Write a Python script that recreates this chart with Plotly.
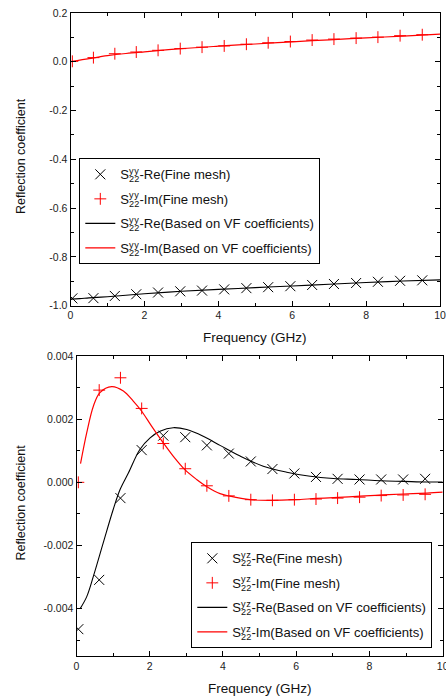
import plotly.graph_objects as go

# ---------------- data ----------------
# sample frequencies of fine-mesh markers (GHz)
freq_pts = [0.05, 0.62, 1.2, 1.78, 2.37, 2.97, 3.56, 4.16, 4.76, 5.35, 5.95, 6.54, 7.13, 7.73, 8.32, 8.92, 9.52]

# top panel: S22^yy
yy_re_pts = [-0.970, -0.969, -0.960, -0.953, -0.946, -0.941, -0.938, -0.933, -0.928, -0.924,
             -0.920, -0.915, -0.911, -0.907, -0.902, -0.898, -0.896]
yy_im_pts = [0.002, 0.017, 0.033, 0.040, 0.047, 0.054, 0.060, 0.065, 0.072, 0.078,
             0.083, 0.089, 0.093, 0.097, 0.101, 0.107, 0.111]
freq_line_top = [0, 0.25, 0.5, 1, 1.5, 2, 3, 4, 5, 6, 7, 8, 9, 10]
yy_re_line = [-0.973, -0.971, -0.968, -0.963, -0.957, -0.951, -0.941, -0.933, -0.926, -0.919,
              -0.912, -0.905, -0.899, -0.894]
yy_im_line = [0.000, 0.007, 0.013, 0.025, 0.034, 0.041, 0.054, 0.064, 0.073, 0.082,
              0.090, 0.098, 0.105, 0.113]

# bottom panel: S22^yz
yz_re_pts = [-0.00465, -0.00309, -0.00050, 0.00102, 0.00148, 0.00143, 0.00117, 0.00091, 0.00066,
             0.00042, 0.00028, 0.00017, 0.00011, 0.00009, 0.00009, 0.00009, 0.00011]
yz_im_pts = [0.00000, 0.00292, 0.00331, 0.00234, 0.00123, 0.00043, -0.00011, -0.00043, -0.00055,
             -0.00057, -0.00055, -0.00053, -0.00050, -0.00047, -0.00042, -0.00040, -0.00038]
freq_line_re = [0.1, 0.28, 0.46, 0.73, 1.0, 1.19, 1.42, 1.73, 2.01, 2.28, 2.64, 3.01, 3.46, 3.92,
                4.47, 5.10, 5.74, 6.38, 7.02, 7.66, 8.29, 8.93, 9.57, 10]
yz_re_line = [-0.00400, -0.00362, -0.00298, -0.00192, -0.00087, -0.00023, 0.00030, 0.00104,
              0.00141, 0.00162, 0.00173, 0.00167, 0.00146, 0.00117, 0.00083, 0.00051, 0.00032,
              0.00019, 0.00012, 0.00009, 0.00005, 0.00003, 0.00001, 0.00001]
freq_line_im = [0.11, 0.28, 0.46, 0.64, 0.96, 1.28, 1.55, 1.78, 2.05, 2.37, 2.64, 2.96, 3.28,
                3.56, 3.92, 4.19, 4.74, 5.33, 5.97, 6.56, 7.15, 7.75, 8.34, 8.93, 9.57, 10]
yz_im_line = [0.00059, 0.00157, 0.00241, 0.00284, 0.00303, 0.00289, 0.00257, 0.00225, 0.00178,
              0.00125, 0.00083, 0.00040, 0.00009, -0.00014, -0.00036, -0.00044, -0.00055,
              -0.00057, -0.00055, -0.00051, -0.00048, -0.00044, -0.00040, -0.00037, -0.00034,
              -0.00031]

x_tickvals = [0, 2, 4, 6, 8, 10]
x_ticktext = ["0", "2", "4", "6", "8", "10"]
x_minor = [1, 3, 5, 7, 9]
top_y_tickvals = [0.2, 0.0, -0.2, -0.4, -0.6, -0.8, -1.0]
top_y_ticktext = ["0.2", "0.0", "-0.2", "-0.4", "-0.6", "-0.8", "-1.0"]
top_y_minor = [0.1, -0.1, -0.3, -0.5, -0.7, -0.9]
bot_y_tickvals = [0.004, 0.002, 0.0, -0.002, -0.004]
bot_y_ticktext = ["0.004", "0.002", "0.000", "-0.002", "-0.004"]
bot_y_minor = [0.003, 0.001, -0.001, -0.003, -0.005]

FONT = "Liberation Sans, Arial, sans-serif"
RED = "#ff0000"
BLK = "#000000"
LEG_SIZE = 13.1


def label(sup, part):
    return ('S<sub>2<span style="letter-spacing:-10.2px">2</span></sub>'
            '<sup><span style="letter-spacing:0.6px">' + sup + '</span></sup>-' + part)


fig = go.Figure()

# top panel
fig.add_trace(go.Scatter(x=freq_pts, y=yy_re_pts, mode="markers", name=label("yy", "Re(Fine mesh)"),
                         marker=dict(symbol="x-thin", size=10, line=dict(color=BLK, width=1)),
                         xaxis="x", yaxis="y", legend="legend", legendgroup="a"))
fig.add_trace(go.Scatter(x=freq_pts, y=yy_im_pts, mode="markers", name=label("yy", "Im(Fine mesh)"),
                         marker=dict(symbol="cross-thin", size=8.5, line=dict(color=RED, width=1)),
                         xaxis="x", yaxis="y", legend="legend", legendgroup="b"))
fig.add_trace(go.Scatter(x=freq_line_top, y=yy_re_line, mode="lines",
                         name=label("yy", "Re(Based on VF coefficients)"),
                         line=dict(color=BLK, width=1.1, shape="spline"),
                         xaxis="x", yaxis="y", legend="legend", legendgroup="c"))
fig.add_trace(go.Scatter(x=freq_line_top, y=yy_im_line, mode="lines",
                         name=label("yy", "Im(Based on VF coefficients)"),
                         line=dict(color=RED, width=1.2, shape="spline"),
                         xaxis="x", yaxis="y", legend="legend", legendgroup="d"))

# bottom panel
fig.add_trace(go.Scatter(x=freq_pts, y=yz_re_pts, mode="markers", name=label("yz", "Re(Fine mesh)"),
                         marker=dict(symbol="x-thin", size=10, line=dict(color=BLK, width=1)),
                         xaxis="x2", yaxis="y2", legend="legend2", legendgroup="e"))
fig.add_trace(go.Scatter(x=freq_pts, y=yz_im_pts, mode="markers", name=label("yz", "Im(Fine mesh)"),
                         marker=dict(symbol="cross-thin", size=8.5, line=dict(color=RED, width=1)),
                         xaxis="x2", yaxis="y2", legend="legend2", legendgroup="f"))
fig.add_trace(go.Scatter(x=freq_line_re, y=yz_re_line, mode="lines",
                         name=label("yz", "Re(Based on VF coefficients)"),
                         line=dict(color=BLK, width=1.1, shape="spline"),
                         xaxis="x2", yaxis="y2", legend="legend2", legendgroup="g"))
fig.add_trace(go.Scatter(x=freq_line_im, y=yz_im_line, mode="lines",
                         name=label("yz", "Im(Based on VF coefficients)"),
                         line=dict(color=RED, width=1.2, shape="spline"),
                         xaxis="x2", yaxis="y2", legend="legend2", legendgroup="h"))

W, H = 446, 698


def px_x(p):
    return p / W


def px_y(p):
    return 1 - p / H


axis_common = dict(showline=True, linecolor=BLK, linewidth=1, mirror="allticks", ticks="inside",
                   ticklen=5, tickcolor=BLK, tickwidth=1, showgrid=False, zeroline=False,
                   tickfont=dict(family=FONT, size=10.5, color="#222"), automargin=False,
                   ticklabeloverflow="allow")

fig.update_layout(
    width=W, height=H,
    margin=dict(l=0, r=0, t=0, b=0),
    paper_bgcolor="white", plot_bgcolor="white",
    font=dict(family=FONT, color="#111"),
    showlegend=True,
    xaxis=dict(axis_common, domain=[px_x(70.5), px_x(440)], range=[0, 10], anchor="y",
               tickmode="array", tickvals=x_tickvals, ticktext=x_ticktext,
               minor=dict(tickmode="array", tickvals=x_minor, ticks="inside", ticklen=3, tickcolor=BLK)),
    yaxis=dict(axis_common, domain=[px_y(305.7), px_y(13)], range=[-1.0, 0.2], anchor="x",
               tickmode="array", tickvals=top_y_tickvals, ticktext=top_y_ticktext,
               minor=dict(tickmode="array", tickvals=top_y_minor, ticks="inside", ticklen=3, tickcolor=BLK)),
    xaxis2=dict(axis_common, domain=[px_x(76.5), px_x(442.7)], range=[0, 10], anchor="y2",
                tickmode="array", tickvals=x_tickvals, ticktext=x_ticktext,
                minor=dict(tickmode="array", tickvals=x_minor, ticks="inside", ticklen=3, tickcolor=BLK)),
    yaxis2=dict(axis_common, domain=[px_y(656), px_y(356)], range=[-0.0055, 0.004], anchor="x2",
                tickmode="array", tickvals=bot_y_tickvals, ticktext=bot_y_ticktext,
                minor=dict(tickmode="array", tickvals=bot_y_minor, ticks="inside", ticklen=3, tickcolor=BLK)),
    legend=dict(x=px_x(79.3), y=px_y(158.3), xanchor="left", yanchor="top",
                bgcolor="white", bordercolor=BLK, borderwidth=1,
                font=dict(family=FONT, size=LEG_SIZE, color="#111"), tracegroupgap=4.5,
                traceorder="grouped"),
    legend2=dict(x=px_x(191.3), y=px_y(542.3), xanchor="left", yanchor="top",
                 bgcolor="white", bordercolor=BLK, borderwidth=1,
                 font=dict(family=FONT, size=LEG_SIZE, color="#111"), tracegroupgap=4.5,
                 traceorder="grouped"),
    annotations=[
        dict(text="Frequency (GHz)", x=px_x(255.3), y=px_y(337), xref="paper", yref="paper",
             xanchor="center", yanchor="middle",
             showarrow=False, font=dict(family=FONT, size=13.5, color="#111")),
        dict(text="Frequency (GHz)", x=px_x(260), y=px_y(688), xref="paper", yref="paper",
             xanchor="center", yanchor="middle",
             showarrow=False, font=dict(family=FONT, size=13.5, color="#111")),
        dict(text="Reflection coefficient", x=px_x(21), y=px_y(156), xref="paper", yref="paper",
             xanchor="center", yanchor="middle",
             showarrow=False, textangle=-90, font=dict(family=FONT, size=12.5, color="#111")),
        dict(text="Reflection coefficient", x=px_x(20.5), y=px_y(503), xref="paper", yref="paper",
             xanchor="center", yanchor="middle",
             showarrow=False, textangle=-90, font=dict(family=FONT, size=12.5, color="#111")),
    ],
)

fig.write_html("out.html")
